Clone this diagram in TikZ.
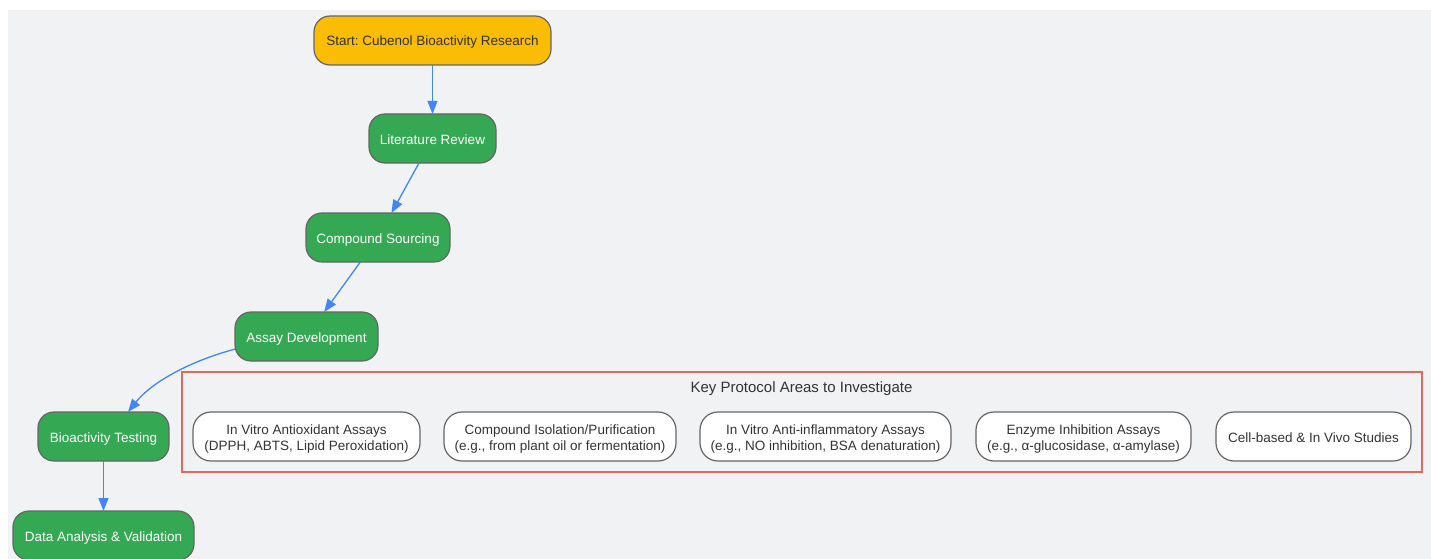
\documentclass[tikz,border=0pt]{standalone}
\usepackage{fontspec}
\setmainfont{Liberation Sans}
\frenchspacing
\usetikzlibrary{arrows.meta}
\definecolor{bgc}{HTML}{F1F2F4}
\definecolor{gfill}{HTML}{34A853}
\definecolor{yfill}{HTML}{FBBC05}
\definecolor{arr}{HTML}{4285F4}
\definecolor{redb}{HTML}{EA6559}
\definecolor{bord}{HTML}{666666}
\definecolor{txt}{HTML}{333333}
\newcommand{\twolines}[2]{\begin{tabular}[t]{@{}c@{}}#1\\#2\end{tabular}}
\tikzset{
  base/.style={draw=bord, line width=1.2pt, rounded corners=16pt, inner sep=0pt, outer sep=0pt,
    minimum height=49pt, font=\fontsize{13.5}{16}\selectfont\frenchspacing, text height=11pt, text depth=0pt},
  startbox/.style={base, fill=yfill, text=txt},
  greenbox/.style={base, fill=gfill, text=white},
  whitebox/.style={base, fill=white, text=txt, rounded corners=18pt},
  twoline/.style={text height=0pt, text depth=4.4pt},
  conn/.style={draw=arr, line width=1.3pt, -{Triangle[length=13pt,width=10pt]}},
}
\begin{document}
\begin{tikzpicture}[x=1pt,y=1pt]
\useasboundingbox (0,0) rectangle (1431,-559);
\fill[bgc] (8,-10) rectangle (1431,-570);
% main flow
\node[startbox, minimum width=237pt] (start) at (432.5,-40.5) {Start: Cubenol Bioactivity Research};
\node[greenbox, minimum width=127pt] (lit) at (432.5,-138.5) {Literature Review};
\node[greenbox, minimum width=144pt] (comp) at (378,-237.5) {Compound Sourcing};
\node[greenbox, minimum width=143pt] (assay) at (306.5,-336.5) {Assay Development};
\node[greenbox, minimum width=131pt] (bio) at (103.5,-436.5) {Bioactivity Testing};
\node[greenbox, minimum width=181pt] (data) at (103.5,-535.5) {Data Analysis \& Validation};
% group box
\node[draw=redb, line width=1.2pt, minimum width=1240pt, minimum height=100pt, inner sep=0pt] (grp) at (802,-422) {};
\node[text=txt, font=\fontsize{15}{18}\selectfont, anchor=base, inner sep=0pt] (title) at (801.5,-392.3) {Key Protocol Areas to Investigate};
\node[whitebox, twoline, minimum width=227pt] (w1) at (306.5,-436.5) {\twolines{In Vitro Antioxidant Assays}{(DPPH, ABTS, Lipid Peroxidation)}};
\node[whitebox, twoline, minimum width=232pt] (w2) at (560,-436.5) {\twolines{Compound Isolation/Purification}{(e.g., from plant oil or fermentation)}};
\node[whitebox, twoline, minimum width=251pt] (w3) at (825.5,-436.5) {\twolines{In Vitro Anti-inflammatory Assays}{(e.g., NO inhibition, BSA denaturation)}};
\node[whitebox, twoline, minimum width=215pt] (w4) at (1083.5,-436.5) {\twolines{Enzyme Inhibition Assays}{(e.g., α-glucosidase, α-amylase)}};
\node[whitebox, minimum width=195pt] (w5) at (1313.5,-436.5) {Cell-based \& In Vivo Studies};
% connectors
\draw[conn] (start) -- (lit);
\draw[conn] (lit) -- (comp);
\draw[conn] (comp) -- (assay);
\draw[conn] (assay.190) .. controls +(-45,-12) and +(24,30) .. (bio.45);
\draw[conn] (bio) -- (data);
\end{tikzpicture}
\end{document}
